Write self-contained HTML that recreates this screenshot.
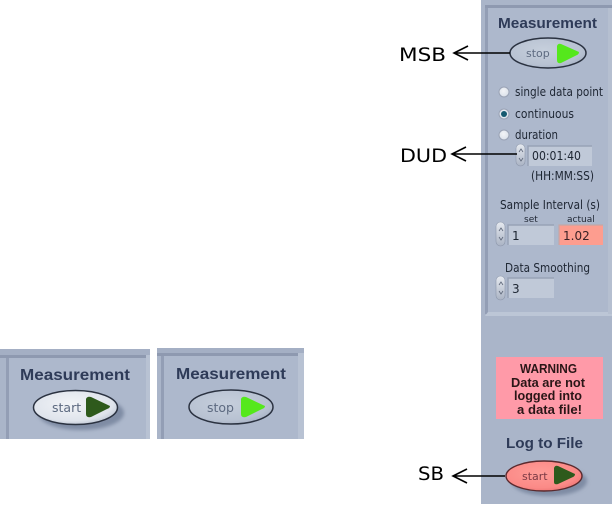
<!DOCTYPE html>
<html><head><meta charset="utf-8"><style>
html,body{margin:0;padding:0;background:#fff}
svg{display:block}
text{font-family:"DejaVu Sans","Liberation Sans",sans-serif}
.h{font-family:"Liberation Sans",sans-serif;font-weight:700;fill:#2f3a58}
.t{font-size:12px;fill:#1f2533}
.l{font-size:19px;fill:#000}
.w{font-family:"Liberation Sans",sans-serif;font-size:13px;font-weight:700;fill:#2a1518}
</style></head><body>
<svg width="612" height="528" viewBox="0 0 612 528" xmlns="http://www.w3.org/2000/svg">
<defs>
<radialGradient id="w" cx="45%" cy="40%" r="70%"><stop offset="0" stop-color="#f2f4f7"/><stop offset=".7" stop-color="#dfe4ec"/><stop offset="1" stop-color="#aeb8c8"/></radialGradient>
<radialGradient id="g" cx="45%" cy="40%" r="70%"><stop offset="0" stop-color="#c6cfdc"/><stop offset=".7" stop-color="#b8c2d2"/><stop offset="1" stop-color="#9ea9bd"/></radialGradient>
<radialGradient id="r" cx="45%" cy="40%" r="70%"><stop offset="0" stop-color="#ff9c97"/><stop offset=".7" stop-color="#fb8a87"/><stop offset="1" stop-color="#e86b6b"/></radialGradient>
<linearGradient id="s" x1="0" y1="0" x2="0" y2="1"><stop offset="0" stop-color="#e6eaf0"/><stop offset="1" stop-color="#aab3c4"/></linearGradient>
<filter id="b" x="-5%" y="-5%" width="110%" height="110%"><feGaussianBlur stdDeviation=".35"/></filter>
<filter id="b2" x="-30%" y="-30%" width="160%" height="160%"><feGaussianBlur stdDeviation="1.800"/></filter>
</defs>

<g filter="url(#b)">
<!-- lower-left panels -->
<rect x="0" y="349" width="150" height="90" fill="#aab5c9"/>
<rect x="0" y="349" width="150" height="6" fill="#a4afc4"/>
<rect x="0" y="355" width="146" height="3" fill="#8e99b0"/>
<rect x="6" y="358" width="3" height="81" fill="#939eb5"/>
<rect x="9" y="358" width="137" height="81" fill="#adb8cc"/>
<rect x="146" y="355" width="4" height="84" fill="#b8c2d3"/>
<text x="20" y="380" class="h" font-size="16" textLength="110" lengthAdjust="spacingAndGlyphs">Measurement</text>
<ellipse cx="81" cy="413" rx="43" ry="17" fill="#7f8ca4" filter="url(#b2)"/>
<ellipse cx="75.500" cy="407.500" rx="42" ry="17" fill="url(#w)" stroke="#2a3040" stroke-width="1.500"/>
<text x="52" y="412" font-size="12.500" fill="#5d6a80">start</text>
<path d="M86 399Q87 396 91 397L110 406Q110 408 107 409L91 417Q86 418 86 414Z" fill="#2f5a1c"/>

<rect x="157" y="348" width="147" height="91" fill="#aab5c9"/>
<rect x="157" y="348" width="147" height="5" fill="#a4afc4"/>
<rect x="157" y="353" width="141" height="3" fill="#8e99b0"/>
<rect x="161" y="356" width="3" height="83" fill="#939eb5"/>
<rect x="164" y="356" width="134" height="83" fill="#adb8cc"/>
<rect x="298" y="353" width="6" height="86" fill="#b8c2d3"/>
<text x="176" y="379" class="h" font-size="16" textLength="110" lengthAdjust="spacingAndGlyphs">Measurement</text>
<ellipse cx="231" cy="407" rx="42" ry="17" fill="url(#g)" stroke="#2a3040" stroke-width="1.500"/>
<text x="207" y="412" font-size="12.500" fill="#5d6a80">stop</text>
<path d="M241 399Q242 396 246 397L265 406Q265 408 262 409L246 417Q241 418 241 414Z" fill="#55e81e"/>

<!-- right panel -->
<rect x="481" y="0" width="131" height="504" fill="#aab5c9"/>
<rect x="485" y="5" width="127" height="3" fill="#8e99b0"/>
<rect x="485" y="8" width="3" height="306" fill="#939eb5"/>
<rect x="488" y="8" width="124" height="304" fill="#adb8cc"/>
<path d="M485 316H612V312H488Z" fill="#bcc6d6"/>
<rect x="608" y="8" width="4" height="306" fill="#b5bfd0"/>
<text x="498" y="28" class="h" font-size="14.500" textLength="99" lengthAdjust="spacingAndGlyphs">Measurement</text>

<ellipse cx="548" cy="53" rx="38" ry="15" fill="url(#g)" stroke="#2a3040" stroke-width="1.500"/>
<text x="526" y="57" font-size="11" fill="#5d6a80">stop</text>
<path d="M557 46Q558 43 561 44L579 52Q579 54 577 55L561 63Q557 64 557 60Z" fill="#55e81e"/>

<circle cx="504" cy="92" r="5" fill="url(#w)" stroke="#9aa3b5"/>
<text x="515" y="96" class="t" textLength="88" lengthAdjust="spacingAndGlyphs">single data point</text>
<circle cx="504" cy="114" r="5" fill="url(#w)" stroke="#9aa3b5"/>
<circle cx="504" cy="114" r="3" fill="#155a70"/>
<text x="515" y="118" class="t" textLength="59" lengthAdjust="spacingAndGlyphs">continuous</text>
<circle cx="504" cy="135" r="5" fill="url(#w)" stroke="#9aa3b5"/>
<text x="515" y="139" class="t" textLength="43" lengthAdjust="spacingAndGlyphs">duration</text>

<rect x="516" y="144" width="9" height="22" rx="4.500" fill="url(#s)" stroke="#8d97ab" stroke-width=".6"/>
<path d="M519 152L521 149L523 152M519 158L521 161L523 158" fill="none" stroke="#5d6678" stroke-width=".8"/>
<rect x="528" y="146" width="64" height="20" fill="#c0c9d8"/>
<path d="M528 166V146H592" fill="none" stroke="#98a2b6" stroke-width="1.500"/>
<text x="532" y="160" class="t" textLength="49" lengthAdjust="spacingAndGlyphs">00:01:40</text>
<text x="531" y="180" class="t" textLength="63" lengthAdjust="spacingAndGlyphs">(HH:MM:SS)</text>

<text x="500" y="209" class="t" textLength="100" lengthAdjust="spacingAndGlyphs">Sample Interval (s)</text>
<text x="524" y="222" font-size="9" fill="#1f2533">set</text>
<text x="567" y="222" font-size="9" fill="#1f2533">actual</text>
<rect x="496" y="222" width="9" height="24" rx="4.500" fill="url(#s)" stroke="#8d97ab" stroke-width=".6"/>
<path d="M499 231L501 228L503 231M499 237L501 240L503 237" fill="none" stroke="#5d6678" stroke-width=".8"/>
<rect x="508" y="225" width="46" height="20" fill="#c0c9d8"/>
<path d="M508 245V225H554" fill="none" stroke="#98a2b6" stroke-width="1.500"/>
<text x="512" y="240" class="t">1</text>
<rect x="559" y="225" width="44" height="20" fill="#fd9d8f"/>
<path d="M559 245V225H603" fill="none" stroke="#c2a7a8" stroke-width="1.200"/>
<text x="563" y="240" class="t" style="fill:#3a2226">1.02</text>

<text x="505" y="272" class="t" textLength="85" lengthAdjust="spacingAndGlyphs">Data Smoothing</text>
<rect x="496" y="276" width="9" height="24" rx="4.500" fill="url(#s)" stroke="#8d97ab" stroke-width=".6"/>
<path d="M499 285L501 282L503 285M499 291L501 294L503 291" fill="none" stroke="#5d6678" stroke-width=".8"/>
<rect x="508" y="278" width="46" height="20" fill="#c0c9d8"/>
<path d="M508 298V278H554" fill="none" stroke="#98a2b6" stroke-width="1.500"/>
<text x="512" y="293" class="t">3</text>

<rect x="496" y="357" width="107" height="62" fill="#ff9aa8"/>
<text x="520" y="373" class="w" textLength="57" lengthAdjust="spacingAndGlyphs">WARNING</text>
<text x="511" y="387" class="w" textLength="74" lengthAdjust="spacingAndGlyphs">Data are not</text>
<text x="514" y="400" class="w" textLength="68" lengthAdjust="spacingAndGlyphs">logged into</text>
<text x="517" y="414" class="w" textLength="65" lengthAdjust="spacingAndGlyphs">a data file!</text>
<text x="506" y="448" class="h" font-size="15" textLength="77" lengthAdjust="spacingAndGlyphs">Log to File</text>

<ellipse cx="549" cy="481" rx="38" ry="15" fill="#7f8ca4" filter="url(#b2)"/>
<ellipse cx="544" cy="476" rx="38" ry="15" fill="url(#r)" stroke="#5a2a2e" stroke-width="1.400"/>
<text x="522" y="480" font-size="11" fill="#7b3a44">start</text>
<path d="M554 468Q555 465 558 466L575 474Q575 476 573 477L558 484Q554 485 554 482Z" fill="#2f5a1c"/>
</g>

<!-- labels and arrows -->
<text x="399" y="61" class="l" textLength="47" lengthAdjust="spacingAndGlyphs">MSB</text>
<path d="M454 53H510M468 46L454 53L468 60" fill="none" stroke="#000" stroke-width="1.600"/>
<text x="400" y="162" class="l" textLength="47" lengthAdjust="spacingAndGlyphs">DUD</text>
<path d="M452 154H517M466 147L452 154L466 161" fill="none" stroke="#000" stroke-width="1.600"/>
<text x="418" y="480" class="l" textLength="26" lengthAdjust="spacingAndGlyphs">SB</text>
<path d="M453 476H505M467 469L453 476L467 483" fill="none" stroke="#000" stroke-width="1.600"/>
</svg>
</body></html>
